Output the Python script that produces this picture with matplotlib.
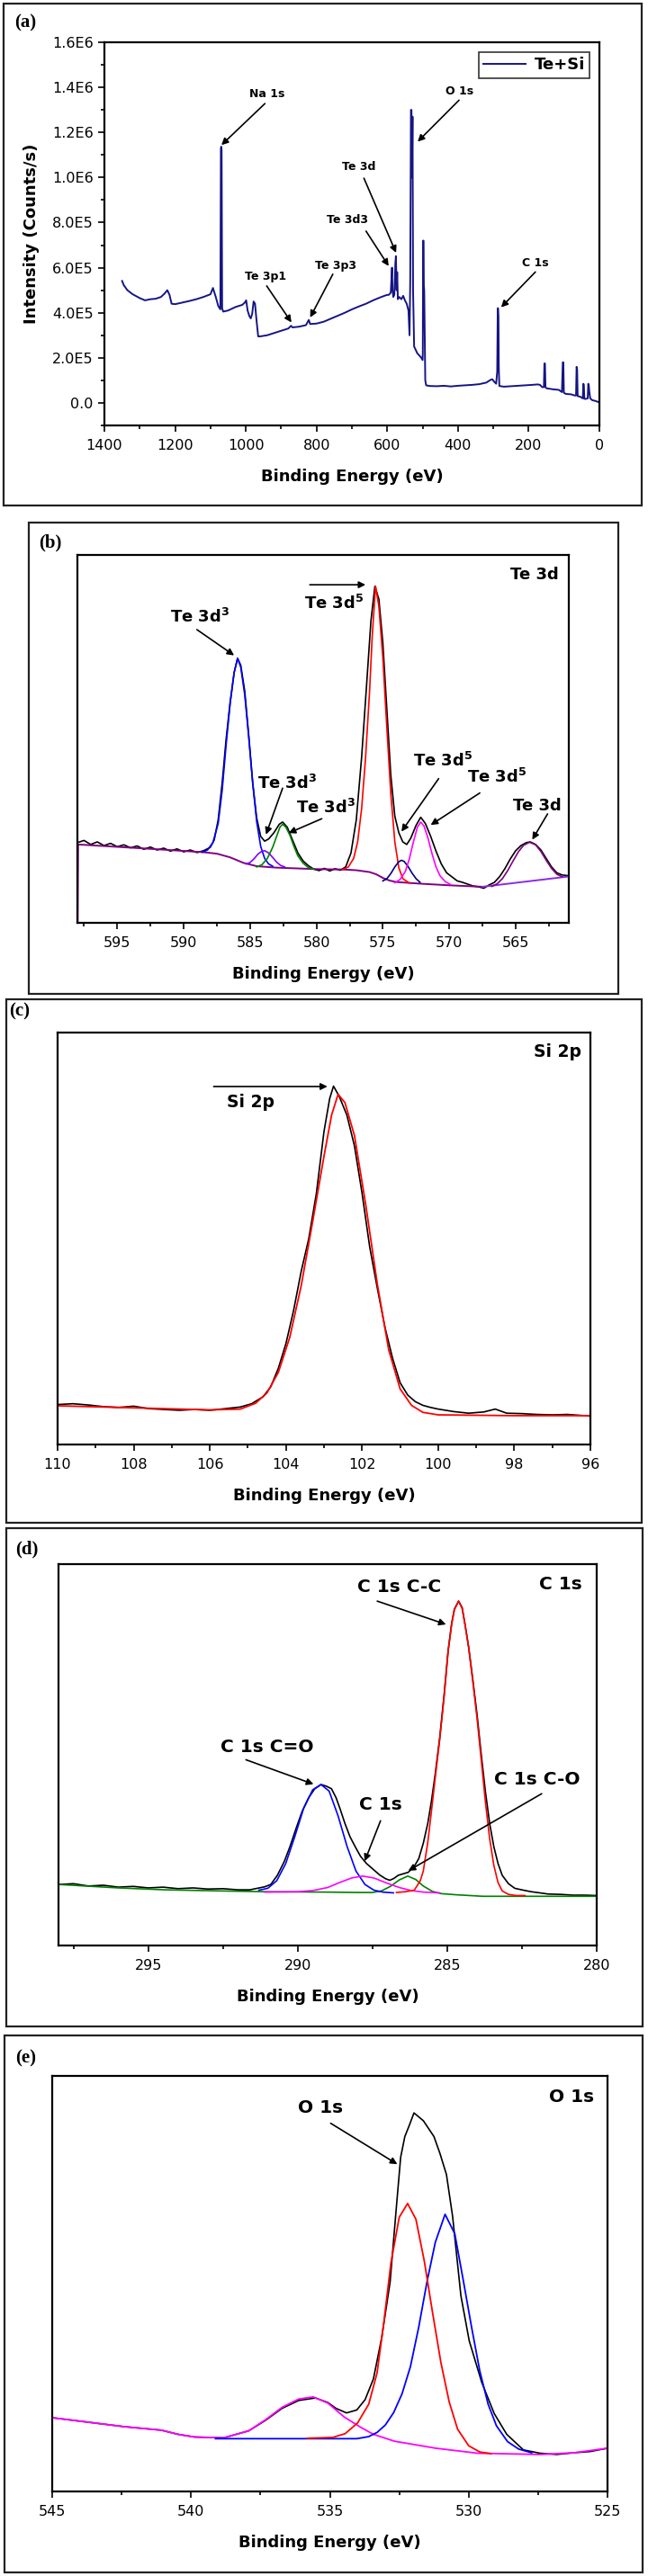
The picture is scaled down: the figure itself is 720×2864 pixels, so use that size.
import matplotlib
matplotlib.use("Agg")
import matplotlib.pyplot as plt
from matplotlib.patches import Rectangle
from matplotlib.ticker import MultipleLocator, FuncFormatter

plt.rcParams['font.family'] = ['DejaVu Sans']
plt.rcParams['mathtext.fontset'] = 'custom'
plt.rcParams['mathtext.rm'] = 'DejaVu Sans'
plt.rcParams['mathtext.default'] = 'regular'

# ---- (a) survey spectrum ----
survey_E = [1350, 1345, 1335, 1320, 1300, 1285, 1270, 1255, 1240, 1230, 1222, 1216, 1210, 1200, 1180,
            1160, 1140, 1120, 1100, 1093, 1085, 1078, 1072, 1070.5, 1069.5, 1068.5, 1067, 1064, 1050,
            1030, 1010, 1003, 999, 995, 990, 986, 982, 978, 974, 970, 965, 960, 940, 920, 900, 880, 872,
            868, 850, 830, 822, 818, 800, 780, 750, 720, 700, 680, 660, 640, 620, 603, 595, 590, 588,
            586.5, 585, 583, 580, 577, 575.5, 573.5, 572, 570, 566, 560, 555, 550, 545, 540, 537, 535,
            533, 531.5, 530, 528.5, 527, 524, 515, 505, 500, 499.5, 498.5, 497.5, 496.5, 495.5, 494,
            492.5, 490, 480, 460, 440, 420, 400, 380, 360, 340, 320, 308, 303, 298, 292, 289, 287.5,
            286.5, 285.5, 284.5, 283, 270, 250, 230, 210, 190, 175, 168, 162, 157, 155.5, 154, 152.5,
            150, 130, 115, 106, 103.5, 102, 100.5, 95, 80, 70, 66, 64.5, 63, 61.5, 55, 47, 45.5, 44,
            42.5, 38, 33, 31.5, 30, 28.5, 26, 20, 15, 10, 5, 0]
survey_I = [5.41, 5.22, 5.0, 4.82, 4.65, 4.55, 4.6, 4.62, 4.7, 4.85, 5.0, 4.8, 4.4, 4.38, 4.45,
            4.52, 4.6, 4.7, 4.82, 5.1, 4.7, 4.3, 4.15, 11.3, 11.37, 11.2, 4.2, 4.05, 4.1,
            4.25, 4.35, 4.45, 4.55, 4.1, 3.85, 3.75, 3.95, 4.5, 4.4, 3.7, 2.95, 2.95, 3.0, 3.1, 3.2, 3.3, 3.42,
            3.35, 3.38, 3.45, 3.68, 3.5, 3.52, 3.6, 3.8, 4.0, 4.15, 4.28, 4.4, 4.55, 4.68, 4.78, 4.8, 4.9, 5.5,
            6.0, 5.0, 4.7, 4.8, 6.2, 6.51, 5.0, 5.8, 4.6, 4.7, 4.6, 4.75, 4.55, 4.4, 4.1, 3.0, 5.4,
            13.0, 13.0, 10.0, 12.7, 5.0, 2.5, 2.2, 2.03, 1.9, 2.2, 7.2, 7.2, 5.2, 5.0, 3.0,
            1.0, 0.78, 0.75, 0.74, 0.76, 0.73, 0.76, 0.78, 0.8, 0.83, 0.9, 1.02, 1.05, 0.95, 0.85, 1.4, 4.2,
            4.2, 3.8, 1.5, 0.75, 0.72, 0.74, 0.76, 0.78, 0.8, 0.82, 0.8, 0.7, 0.7, 1.75, 1.75, 0.7,
            0.65, 0.6, 0.58, 0.48, 1.8, 1.8, 0.45, 0.4, 0.38, 0.33, 0.33, 1.6, 1.5, 0.3, 0.28, 0.2, 0.85, 0.8,
            0.18, 0.18, 0.2, 0.85, 0.78, 0.5, 0.2, 0.12, 0.1, 0.08, 0.05, 0.02]
survey_I = [v * 1e5 for v in survey_I]
# label, text position, arrow tail, arrow head (eV, counts)
survey_notes = [
    ('Na 1s', (941, 1.372e6), (946, 1.328e6), (1069, 1.144e6)),
    ('O 1s', (395, 1.384e6), (397, 1.343e6), (514, 1.159e6)),
    ('Te 3d', (680, 1.049e6), (666, 0.997e6), (575, 0.666e6)),
    ('Te 3d3', (713, 0.81e6), (660, 0.762e6), (596, 0.607e6)),
    ('Te 3p3', (746, 0.61e6), (754, 0.571e6), (818, 0.379e6)),
    ('Te 3p1', (943, 0.56e6), (941, 0.519e6), (871, 0.357e6)),
    ('C 1s', (181, 0.622e6), (181, 0.581e6), (278, 0.424e6)),
]

# ---- (b) Te 3d ----
te_E = [598.0, 597.5, 597.0, 596.5, 596.0, 595.5, 595.0, 594.5, 594.0, 593.5, 593.0, 592.5, 592.0, 591.5,
        591.0, 590.5, 590.0, 589.5, 589.0, 588.5, 588.0, 587.7, 587.4, 587.1, 586.8, 586.5, 586.2, 585.94,
        585.7, 585.4, 585.1, 584.8, 584.5, 584.2, 583.9, 583.6, 583.2, 582.8, 582.55, 582.2, 581.8, 581.4,
        581.0, 580.6, 580.2, 579.8, 579.4, 579.0, 578.6, 578.2, 577.8, 577.4, 577.0, 576.6, 576.2, 575.9,
        575.6, 575.3, 575.0, 574.7, 574.4, 574.1, 573.8, 573.5, 573.2, 572.9, 572.5, 572.15, 571.8, 571.4,
        571.0, 570.6, 570.2, 569.8, 569.4, 569.0, 568.6, 568.2, 567.8, 567.4, 567.0, 566.6, 566.2, 565.8,
        565.4, 565.0, 564.6, 564.2, 563.9, 563.5, 563.1, 562.7, 562.3, 561.9, 561.5, 561.0]
te_I = [21.8, 22.4, 21.3, 22.0, 21.0, 21.6, 20.7, 21.2, 20.4, 20.9, 20.0, 20.6, 19.8, 20.3,
        19.5, 20.1, 19.3, 19.8, 19.1, 19.6, 20.5, 22.5, 28.0, 38.0, 50.0, 60.0, 68.0, 71.9,
        70.0, 63.0, 51.0, 38.0, 28.5, 23.5, 22.2, 22.8, 24.5, 26.8, 27.4, 26.0, 22.5, 19.0,
        16.8, 15.5, 14.6, 14.2, 14.8, 14.1, 14.7, 14.3, 15.2, 19.0, 28.0, 45.0, 66.0, 82.0,
        91.5, 88.0, 76.0, 58.0, 40.0, 29.0, 24.5, 22.0, 21.3, 23.0, 26.5, 28.7, 27.0, 23.5,
        19.5, 16.0, 13.6, 12.5, 11.4, 11.0, 10.5, 10.0, 9.8, 9.4, 10.3, 11.0, 12.6, 14.8,
        17.4, 19.6, 21.0, 21.8, 22.0, 21.3, 19.8, 17.5, 15.2, 13.6, 13.0, 12.8]
te_bg_E = [597.98, 597.95, 592.0, 588.5, 587.5, 586.5, 585.5, 584.5, 583.0, 580.0, 578.0, 577.0, 576.0,
           575.5, 575.0, 574.5, 574.0, 572.0, 570.0, 567.5]
te_bg_I = [0.0, 21.3, 20.0, 19.2, 18.8, 17.8, 16.3, 15.4, 15.0, 14.6, 14.5, 14.3, 13.8,
           13.2, 12.2, 11.5, 11.1, 10.6, 10.2, 9.8]
te_bg2_E = [567.5, 561.0]
te_bg2_I = [9.8, 12.6]
te_blue_E = [588.6, 588.2, 587.8, 587.4, 587.1, 586.8, 586.5, 586.2, 585.94, 585.7, 585.4, 585.1, 584.8,
             584.5, 584.2, 583.9, 583.6, 583.3]
te_blue_I = [19.2, 19.8, 21.8, 27.0, 36.0, 48.5, 59.5, 68.0, 71.9, 69.5, 62.0, 50.5, 38.0,
             27.5, 20.8, 17.5, 16.0, 15.4]
te_violet_E = [585.3, 585.0, 584.7, 584.4, 584.1, 583.9, 583.6, 583.3, 583.0, 582.7, 582.4]
te_violet_I = [16.0, 16.4, 17.4, 18.7, 19.5, 19.6, 19.0, 17.8, 16.5, 15.6, 15.2]
te_green_E = [584.5, 584.1, 583.7, 583.3, 583.0, 582.75, 582.55, 582.3, 582.0, 581.7, 581.4, 581.0,
              580.6, 580.2]
te_green_I = [15.2, 15.8, 17.5, 20.5, 23.5, 26.0, 26.8, 26.0, 23.8, 20.8, 18.2, 16.2, 15.0, 14.6]
te_red_E = [578.0, 577.6, 577.2, 576.9, 576.6, 576.3, 576.0, 575.8, 575.55, 575.3, 575.0, 574.7, 574.4,
            574.1, 573.8, 573.5, 573.0]
te_red_I = [14.5, 15.2, 17.5, 22.0, 31.0, 45.0, 63.0, 78.0, 91.5, 86.0, 72.0, 53.0, 35.0,
            22.0, 15.0, 12.0, 10.8]
te_navy_E = [575.0, 574.7, 574.4, 574.1, 573.8, 573.6, 573.4, 573.1, 572.8, 572.5, 572.2]
te_navy_I = [11.4, 12.0, 13.4, 15.2, 16.6, 17.0, 16.7, 15.3, 13.5, 12.0, 11.0]
te_mag_E = [574.1, 573.7, 573.3, 573.0, 572.7, 572.4, 572.15, 571.9, 571.6, 571.3, 571.0, 570.7, 570.3,
            569.9]
te_mag_I = [10.9, 11.8, 14.0, 17.5, 22.0, 26.0, 27.4, 26.3, 23.0, 18.8, 15.2, 12.8, 11.2, 10.4]
te_purple_E = [566.8, 566.4, 566.0, 565.6, 565.2, 564.8, 564.4, 563.95, 563.5, 563.1, 562.7, 562.3,
               561.9, 561.5]
te_purple_I = [9.9, 10.6, 12.0, 14.2, 16.8, 19.3, 21.1, 21.9, 21.2, 19.4, 17.0, 14.8, 13.2, 12.5]
te_notes = [
    (r'Te 3d$^{3}$', (588.8, 83.2), (589.0, 79.7), (586.2, 72.7)),
    (r'Te 3d$^{3}$', (582.2, 37.9), (582.55, 36.6), (583.8, 24.0)),
    (r'Te 3d$^{3}$', (579.3, 31.4), (579.6, 28.3), (582.1, 24.4)),
    (r'Te 3d$^{5}$', (570.5, 44.0), (570.8, 39.2), (573.6, 24.8)),
    (r'Te 3d$^{5}$', (566.4, 39.6), (567.7, 35.3), (571.4, 26.6)),
    ('Te 3d', (563.4, 31.8), (562.6, 29.6), (563.75, 22.6)),
    (r'Te 3d$^{5}$', (578.7, 86.7), (580.5, 91.9), (576.3, 91.9)),
]

# ---- (c) Si 2p ----
si_E = [110.0, 109.6, 109.2, 108.8, 108.4, 108.0, 107.6, 107.2, 106.8, 106.4, 106.0, 105.6, 105.2,
        104.9, 104.6, 104.4, 104.2, 104.0, 103.8, 103.6, 103.4, 103.2, 103.0, 102.85, 102.75, 102.6,
        102.4, 102.2, 102.0, 101.8, 101.6, 101.4, 101.2, 101.0, 100.8, 100.6, 100.4, 100.2, 100.0,
        99.6, 99.2, 98.8, 98.5, 98.2, 97.8, 97.4, 97.0, 96.6, 96.3, 96.0]
si_I = [9.7, 9.9, 9.6, 9.2, 9.0, 9.3, 8.7, 8.5, 8.3, 8.5, 8.3, 8.7, 9.1,
        9.9, 11.6, 14.0, 18.5, 24.5, 32.5, 42.0, 50.0, 61.0, 76.0, 84.0, 87.0, 84.5,
        80.0, 72.5, 61.0, 48.0, 38.0, 28.5, 21.0, 15.0, 12.0, 10.4, 9.5, 9.0, 8.6,
        8.0, 7.6, 7.9, 8.6, 7.6, 7.5, 7.3, 7.2, 7.3, 7.1, 6.9]
si_fit_E = [110.0, 108.0, 106.0, 105.2, 104.8, 104.5, 104.2, 103.9, 103.6, 103.3, 103.0, 102.8, 102.63,
            102.45, 102.2, 101.9, 101.6, 101.3, 101.0, 100.7, 100.4, 100.0, 98.0, 96.0]
si_fit_I = [9.4, 8.9, 8.4, 8.6, 10.0, 12.5, 17.5, 26.0, 38.5, 54.0, 70.0, 80.0, 85.0,
            83.0, 75.0, 58.0, 39.0, 23.0, 13.5, 9.5, 7.8, 7.2, 7.0, 7.0]

# ---- (d) C 1s ----
c_E = [298.0, 297.5, 297.0, 296.5, 296.0, 295.5, 295.0, 294.5, 294.0, 293.5, 293.0, 292.5, 292.0, 291.6,
       291.1, 290.9, 290.68, 290.45, 290.26, 290.05, 289.85, 289.63, 289.43, 289.22, 289.05, 288.87,
       288.72, 288.59, 288.42, 288.25, 288.07, 287.9, 287.7, 287.48, 287.26, 287.06, 286.92, 286.78,
       286.64, 286.47, 286.3, 286.09, 285.95, 285.8, 285.65, 285.53, 285.4, 285.25, 285.1, 284.97,
       284.85, 284.76, 284.62, 284.5, 284.4, 284.28, 284.14, 284.0, 283.86, 283.72, 283.58, 283.44,
       283.3, 283.16, 282.95, 282.74, 282.45, 282.19, 281.9, 281.63, 281.2, 280.8, 280.4, 280.0]
c_I = [16.0, 16.2, 15.6, 15.8, 15.3, 15.5, 15.1, 15.3, 14.9, 15.1, 14.8, 14.9, 14.6, 14.6,
       15.4, 16.0, 18.4, 22.0, 25.9, 30.8, 35.2, 38.8, 41.1, 42.2, 41.8, 41.1,
       38.8, 36.0, 32.0, 28.5, 25.8, 23.4, 21.5, 20.0, 18.5, 17.5, 17.1, 17.6,
       18.4, 18.8, 19.2, 20.9, 22.8, 26.8, 32.0, 37.7, 45.0, 54.5, 66.0, 77.3,
       84.5, 88.2, 90.3, 88.6, 84.0, 78.1, 69.5, 60.4, 50.0, 40.2, 32.0, 25.9,
       21.5, 18.4, 16.2, 15.0, 14.5, 14.1, 13.8, 13.5, 13.4, 13.2, 13.2, 13.1]
c_green_E = [298.0, 296.0, 294.44, 292.5, 291.1, 289.0, 288.0, 287.5, 287.2, 286.9, 286.6, 286.32, 286.05,
             285.8, 285.5, 285.2, 284.7, 283.8, 282.0, 280.0]
c_green_I = [16.0, 15.1, 14.6, 14.3, 14.1, 14.0, 13.9, 13.9, 14.3, 15.5, 17.2, 18.2, 17.3,
             15.6, 14.2, 13.6, 13.3, 12.9, 12.9, 12.9]
c_blue_E = [291.3, 291.0, 290.7, 290.4, 290.1, 289.8, 289.5, 289.22, 288.95, 288.65, 288.35, 288.05,
            287.75, 287.45, 287.15, 286.8]
c_blue_I = [14.5, 15.0, 17.0, 21.5, 28.5, 36.0, 40.8, 42.2, 40.5, 34.0, 26.0, 19.5,
            16.0, 14.5, 14.0, 13.8]
c_mag_E = [291.1, 290.0, 289.5, 289.0, 288.6, 288.2, 287.83, 287.45, 287.0, 286.6, 286.2, 285.8, 285.25]
c_mag_I = [14.0, 14.1, 14.4, 15.2, 16.5, 17.7, 18.2, 17.7, 16.3, 15.2, 14.4, 14.0, 13.8]
c_red_E = [286.7, 286.4, 286.1, 285.9, 285.8, 285.65, 285.53, 285.4, 285.25, 285.1, 284.97, 284.85,
           284.76, 284.62, 284.5, 284.4, 284.28, 284.14, 284.0, 283.86, 283.72, 283.58, 283.44, 283.3,
           283.16, 282.95, 282.7, 282.4]
c_red_I = [13.9, 14.1, 14.5, 17.0, 19.5, 27.0, 35.0, 44.0, 54.0, 65.5, 77.0, 84.3,
           88.0, 90.3, 88.4, 84.0, 78.0, 69.0, 59.5, 48.5, 37.5, 28.0, 21.0, 16.5,
           14.3, 13.4, 13.1, 13.1]
c_notes = [
    ('C 1s C-C', (286.62, 94.1), (287.34, 90.3), (285.04, 84.2)),
    ('C 1s C=O', (291.02, 52.0), (291.73, 48.7), (289.47, 42.3)),
    ('C 1s', (287.24, 37.0), (287.23, 32.7), (287.76, 22.1)),
    ('C 1s C-O', (281.98, 43.6), (281.84, 39.8), (286.3, 19.6)),
]

# ---- (e) O 1s ----
o_E = [545.0, 542.42, 541.07, 540.47, 539.87, 538.82, 537.92, 537.32, 536.72, 536.12, 535.52, 535.07,
       534.78, 534.4, 534.03, 533.73, 533.43, 533.13, 532.83, 532.6, 532.45, 532.3, 532.15, 531.97,
       531.63, 531.25, 531.03, 530.8, 530.58, 530.28, 529.98, 529.53, 529.08, 528.63, 528.03, 527.43,
       526.83, 526.23, 525.63, 525.0]
o_I = [17.75, 15.6, 14.75, 13.75, 13.1, 12.9, 14.6, 17.1, 20.0, 21.9, 22.5, 21.4,
       20.0, 18.9, 19.6, 22.1, 27.1, 37.1, 50.4, 68.75, 80.4, 85.4, 87.9, 91.1,
       89.2, 85.4, 81.25, 76.25, 66.25, 47.1, 36.25, 26.25, 18.75, 13.75, 10.0, 9.2,
       8.9, 9.3, 9.6, 10.4]
o_mag_E = [545.0, 542.42, 541.07, 540.47, 539.87, 538.82, 537.92, 537.32, 536.72, 536.12, 535.6, 535.07,
           534.48, 533.88, 533.43, 532.68, 531.18, 529.68, 527.43, 526.23, 525.0]
o_mag_I = [17.75, 15.6, 14.75, 13.75, 13.1, 12.9, 14.6, 17.25, 20.25, 22.25, 22.75, 21.25,
           17.9, 15.4, 13.75, 12.1, 10.4, 9.2, 8.9, 9.3, 10.4]
o_blue_E = [539.12, 534.03, 533.6, 533.3, 533.0, 532.7, 532.4, 532.1, 531.8, 531.5, 531.2, 530.85,
            530.5, 530.2, 529.9, 529.6, 529.3, 529.0, 528.6, 528.2, 527.73]
o_blue_I = [12.7, 12.7, 13.2, 14.2, 16.0, 19.0, 23.5, 30.0, 39.5, 50.5, 60.0, 66.7,
            62.0, 51.0, 39.7, 29.0, 21.0, 15.8, 12.0, 10.2, 9.3]
o_red_E = [535.82, 534.9, 534.45, 534.0, 533.6, 533.3, 533.05, 532.8, 532.5, 532.2, 531.9, 531.6, 531.3,
           531.0, 530.7, 530.4, 530.0, 529.6, 529.2]
o_red_I = [12.8, 13.0, 13.9, 16.5, 21.0, 28.5, 41.0, 55.0, 66.0, 69.3, 65.5, 55.5, 43.0,
           31.0, 21.5, 15.0, 11.0, 9.5, 9.1]

W, H = 720, 2864
fig = plt.figure(figsize=(W / 100, H / 100), dpi=100)


def rect(l, t, r, b):
    return [l / W, 1 - b / H, (r - l) / W, (b - t) / H]


def frame(l, t, r, b, tag, tx, ty):
    fig.add_artist(Rectangle((l / W, 1 - b / H), (r - l) / W, (b - t) / H, transform=fig.transFigure,
                             fill=False, ec='#222222', lw=1.6))
    fig.text(tx / W, 1 - ty / H, tag, family='Liberation Serif', weight='bold', fontsize=15,
             ha='left', va='center')


def style(ax, major, minor, xl):
    ax.set_xlim(*xl)
    for s in ax.spines.values():
        s.set_linewidth(1.6)
    ax.xaxis.set_major_locator(MultipleLocator(major))
    ax.xaxis.set_minor_locator(MultipleLocator(minor))
    ax.tick_params(which='both', direction='out', top=False, right=False, width=1.2)
    ax.tick_params(which='major', length=5, labelsize=11.5, pad=6)
    ax.tick_params(which='minor', length=3)
    ax.set_xlabel('Binding Energy (eV)', fontsize=13, weight='bold', labelpad=13)


def note(ax, label, txt, tail, head, size):
    ax.annotate('', xy=head, xytext=tail,
                arrowprops=dict(arrowstyle='-|>', color='k', lw=1.2, mutation_scale=11,
                                shrinkA=0, shrinkB=0))
    ax.text(txt[0], txt[1], label, fontsize=size, weight='bold', ha='center', va='center')


# (a)
frame(4, 4, 713, 562, '(a)', 16, 25)
ax = fig.add_axes(rect(116, 47, 666, 473))
ax.plot(survey_E, survey_I, color='#151585', lw=1.4, label='Te+Si')
style(ax, 200, 100, (1400, 0))
ax.set_ylim(-1e5, 1.6e6)
ax.yaxis.set_major_locator(MultipleLocator(2e5))
ax.yaxis.set_minor_locator(MultipleLocator(1e5))


def sci(v, pos):
    if abs(v) < 1:
        return '0.0'
    if v < 1e6:
        return '%.1fE5' % (v / 1e5)
    return '%.1fE6' % (v / 1e6)


ax.yaxis.set_major_formatter(FuncFormatter(sci))
ax.tick_params(axis='y', which='major', pad=4)
ax.set_ylabel('Intensity (Counts/s)', fontsize=13, weight='bold', labelpad=10)
for label, txt, tail, head in survey_notes:
    note(ax, label, txt, tail, head, 9)
leg = ax.legend(loc='upper right', prop=dict(weight='bold', size=13), frameon=True, fancybox=False,
                handlelength=2.6, borderpad=0.3, handletextpad=0.5, borderaxespad=0.6)
leg.get_frame().set_edgecolor('k')
leg.get_frame().set_linewidth(1.2)

# (b)
frame(32, 581, 687, 1105, '(b)', 43, 603)
ax = fig.add_axes(rect(86, 617, 632, 1026))
ax.plot(te_E, te_I, color='k', lw=1.2)
ax.plot(te_bg_E, te_bg_I, color='#800080', lw=1.4)
ax.plot(te_bg2_E, te_bg2_I, color='#8a2be2', lw=1.4)
ax.plot(te_blue_E, te_blue_I, color='#0000ff', lw=1.2)
ax.plot(te_violet_E, te_violet_I, color='#8000ff', lw=1.2)
ax.plot(te_green_E, te_green_I, color='#008000', lw=1.2)
ax.plot(te_red_E, te_red_I, color='#ff0000', lw=1.2)
ax.plot(te_navy_E, te_navy_I, color='#000080', lw=1.2)
ax.plot(te_mag_E, te_mag_I, color='#ff00ff', lw=1.2)
ax.plot(te_purple_E, te_purple_I, color='#800080', lw=1.2)
style(ax, 5, 2.5, (598, 561))
ax.set_ylim(0, 100)
ax.set_yticks([])
for label, txt, tail, head in te_notes:
    note(ax, label, txt, tail, head, 13)
ax.text(0.98, 0.946, 'Te 3d', transform=ax.transAxes, fontsize=13, weight='bold', ha='right', va='center')

# (c)
frame(7, 1111, 713, 1693, '(c)', 10, 1124)
ax = fig.add_axes(rect(64, 1148, 656, 1606))
ax.plot(si_E, si_I, color='k', lw=1.2)
ax.plot(si_fit_E, si_fit_I, color='#ff0000', lw=1.3)
style(ax, 2, 1, (110, 96))
ax.set_ylim(0, 100)
ax.set_yticks([])
note(ax, 'Si 2p', (104.92, 83.0), (105.9, 86.9), (102.91, 86.9), 13.5)
ax.text(0.983, 0.952, 'Si 2p', transform=ax.transAxes, fontsize=13.5, weight='bold', ha='right', va='center')

# (d)
frame(7, 1699, 714, 2253, '(d)', 17, 1722)
ax = fig.add_axes(rect(65, 1739, 663, 2163))
ax.plot(c_E, c_I, color='k', lw=1.2)
ax.plot(c_green_E, c_green_I, color='#008000', lw=1.2)
ax.plot(c_blue_E, c_blue_I, color='#0000ff', lw=1.2)
ax.plot(c_mag_E, c_mag_I, color='#ff00ff', lw=1.2)
ax.plot(c_red_E, c_red_I, color='#ff0000', lw=1.2)
style(ax, 5, 2.5, (298, 280))
ax.set_ylim(0, 100)
ax.set_yticks([])
for label, txt, tail, head in c_notes:
    note(ax, label, txt, tail, head, 14.5)
ax.text(0.972, 0.948, 'C 1s', transform=ax.transAxes, fontsize=14.5, weight='bold', ha='right', va='center')

# (e)
frame(5, 2263, 714, 2860, '(e)', 17, 2288)
ax = fig.add_axes(rect(58, 2308, 675, 2770))
ax.plot(o_E, o_I, color='k', lw=1.2)
ax.plot(o_mag_E, o_mag_I, color='#ff00ff', lw=1.3)
ax.plot(o_blue_E, o_blue_I, color='#0000ff', lw=1.3)
ax.plot(o_red_E, o_red_I, color='#ff0000', lw=1.3)
style(ax, 5, 2.5, (545, 525))
ax.set_ylim(0, 100)
ax.set_yticks([])
note(ax, 'O 1s', (535.34, 92.25), (534.97, 88.6), (532.57, 78.75), 14.5)
ax.text(0.976, 0.950, 'O 1s', transform=ax.transAxes, fontsize=14.5, weight='bold', ha='right', va='center')

fig.savefig('out.png', dpi=100)
